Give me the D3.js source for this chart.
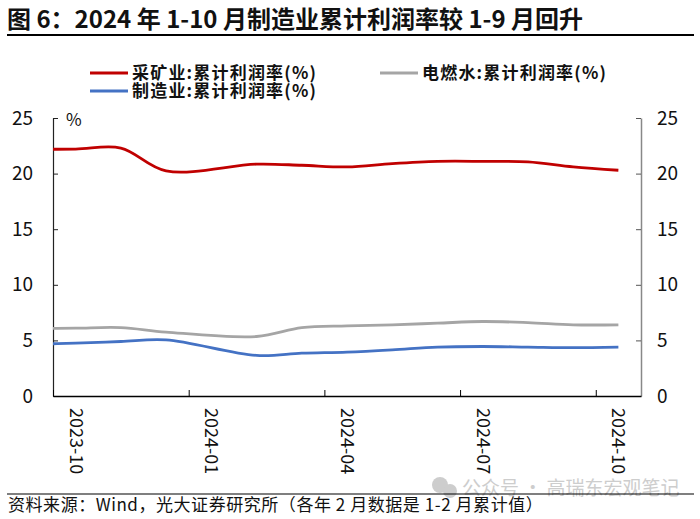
<!DOCTYPE html>
<html>
<head>
<meta charset="utf-8">
<script src="https://cdn.jsdelivr.net/npm/d3@7"></script>
<style>
  body { margin: 0; background: #fff; }
  svg { display: block; font-family: "Noto Sans CJK SC", "Noto Sans", sans-serif; }
</style>
</head>
<body>
<div id="chart"></div>
<script>
// monthly cumulative profit margin (%), Jan is merged into Feb
const months = ["2023-09", "2023-10", "2023-11", "2023-12", "2024-02", "2024-03", "2024-04",
  "2024-05", "2024-06", "2024-07", "2024-08", "2024-09", "2024-10"];
const mining        = [22.2, 22.2, 22.3, 20.25, 20.85, 20.75, 20.6, 20.9, 21.1, 21.1, 21.05, 20.6, 20.3];
const utilities     = [6.05, 6.1, 6.15, 5.75, 5.35, 6.15, 6.3, 6.4, 6.55, 6.7, 6.6, 6.4, 6.4];
const manufacturing = [4.65, 4.75, 4.9, 5.05, 3.65, 3.85, 3.95, 4.15, 4.4, 4.45, 4.4, 4.35, 4.4];

const seriesNames = ["采矿业:累计利润率(%)", "电燃水:累计利润率(%)", "制造业:累计利润率(%)"];
const seriesColors = ["#C00000", "#A5A5A5", "#4472C4"];
const xLabels = ["2023-10", "2024-01", "2024-04", "2024-07", "2024-10"];
const yTicks = [0, 5, 10, 15, 20, 25];

const title = "图 6：2024 年 1-10 月制造业累计利润率较 1-9 月回升";
const source = "资料来源：Wind，光大证券研究所（各年 2 月数据是 1-2 月累计值）";
const watermark = "公众号 · 高瑞东宏观笔记";

const width = 700, height = 519;
const plot = { left: 53, right: 641, top: 118, bottom: 396 };

const monthIndex = s => { const [yy, mm] = s.split("-").map(Number); return yy * 12 + mm - 1; };

const svg = d3.select("#chart").append("svg")
  .attr("width", width).attr("height", height);

// title + rule
svg.append("text").attr("x", 7).attr("y", 28)
  .attr("font-size", 24).attr("font-weight", 700).attr("fill", "#111")
  .text(title);
svg.append("line").attr("x1", 7).attr("x2", 694).attr("y1", 35).attr("y2", 35)
  .attr("stroke", "#000").attr("stroke-width", 2);

const x = d3.scaleLinear()
  .domain([monthIndex(xLabels[0]) - 0.5, monthIndex(xLabels[xLabels.length - 1]) + 0.5])
  .range([plot.left, plot.right]);
const y = d3.scaleLinear().domain([0, 25]).range([plot.bottom, plot.top]);

// clip
svg.append("defs").append("clipPath").attr("id", "clip")
  .append("rect").attr("x", plot.left).attr("y", plot.top - 10)
  .attr("width", plot.right - plot.left).attr("height", plot.bottom - plot.top + 10);

// axes
const leftAxis = svg.append("g").attr("transform", `translate(${plot.left},0)`)
  .call(d3.axisLeft(y).tickValues(yTicks).tickSize(-5).tickSizeOuter(0).tickPadding(20));
const rightAxis = svg.append("g").attr("transform", `translate(${plot.right},0)`)
  .call(d3.axisRight(y).tickValues(yTicks).tickSize(-5).tickSizeOuter(0).tickPadding(16));
[leftAxis, rightAxis].forEach(g => {
  g.selectAll("text").attr("font-size", 19).attr("fill", "#111")
    .attr("font-family", "'Noto Sans CJK SC', sans-serif");
});
leftAxis.select(".domain").attr("stroke", "#222").attr("stroke-width", 1.2);
leftAxis.selectAll(".tick line").attr("stroke", "#222");
rightAxis.select(".domain").attr("stroke", "#888").attr("stroke-width", 1.5);
rightAxis.selectAll(".tick line").attr("stroke", "#555");

const xTickVals = d3.range(x.domain()[0], x.domain()[1], 3);
const bottomAxis = svg.append("g").attr("transform", `translate(0,${plot.bottom})`)
  .call(d3.axisBottom(x).tickValues(xTickVals).tickSize(-6).tickSizeOuter(0).tickFormat(""));
bottomAxis.select(".domain").attr("stroke", "#000").attr("stroke-width", 1.5);
bottomAxis.selectAll(".tick line").attr("stroke", "#000");

svg.append("g").selectAll("text").data(xLabels).join("text")
  .attr("transform", d => `translate(${x(monthIndex(d)) - 6},${plot.bottom + 12}) rotate(90)`)
  .attr("font-size", 18).attr("fill", "#111")
  .text(d => d);

svg.append("text").attr("x", 66).attr("y", 126)
  .attr("font-size", 17).attr("fill", "#111").text("%");

// lines
const seriesData = [mining, utilities, manufacturing];
const line = d3.line()
  .x((d, i) => x(monthIndex(months[i])))
  .y(d => y(d))
  .curve(d3.curveCatmullRom.alpha(0.5));
svg.append("g").attr("clip-path", "url(#clip)")
  .selectAll("path").data(seriesData).join("path")
  .attr("d", line)
  .attr("fill", "none")
  .attr("stroke", (d, i) => seriesColors[i])
  .attr("stroke-width", 2.8);

// legend
const legendPos = [[90, 73], [380, 73], [90, 91]];
const legend = svg.append("g").selectAll("g").data(seriesNames).join("g")
  .attr("transform", (d, i) => `translate(${legendPos[i][0]},${legendPos[i][1]})`);
legend.append("line").attr("x1", 0).attr("x2", 38)
  .attr("stroke", (d, i) => seriesColors[i]).attr("stroke-width", 3);
legend.append("text").attr("x", 42).attr("y", 6)
  .attr("font-size", 17).attr("font-weight", 700).attr("fill", "#111")
  .attr("letter-spacing", 1.2)
  .text(d => d);

// watermark
const wm = svg.append("g").attr("fill", "#cdcdcd");
wm.append("circle").attr("cx", 440).attr("cy", 485).attr("r", 8);
wm.append("circle").attr("cx", 450).attr("cy", 491).attr("r", 7);
wm.append("text").attr("x", 462).attr("y", 495).attr("font-size", 19).text(watermark);

// source
svg.append("line").attr("x1", 7).attr("x2", 694).attr("y1", 494).attr("y2", 494)
  .attr("stroke", "#000").attr("stroke-width", 1.2);
svg.append("text").attr("x", 8).attr("y", 511)
  .attr("font-size", 17).attr("fill", "#111").attr("letter-spacing", 0.55).text(source);
</script>
</body>
</html>
